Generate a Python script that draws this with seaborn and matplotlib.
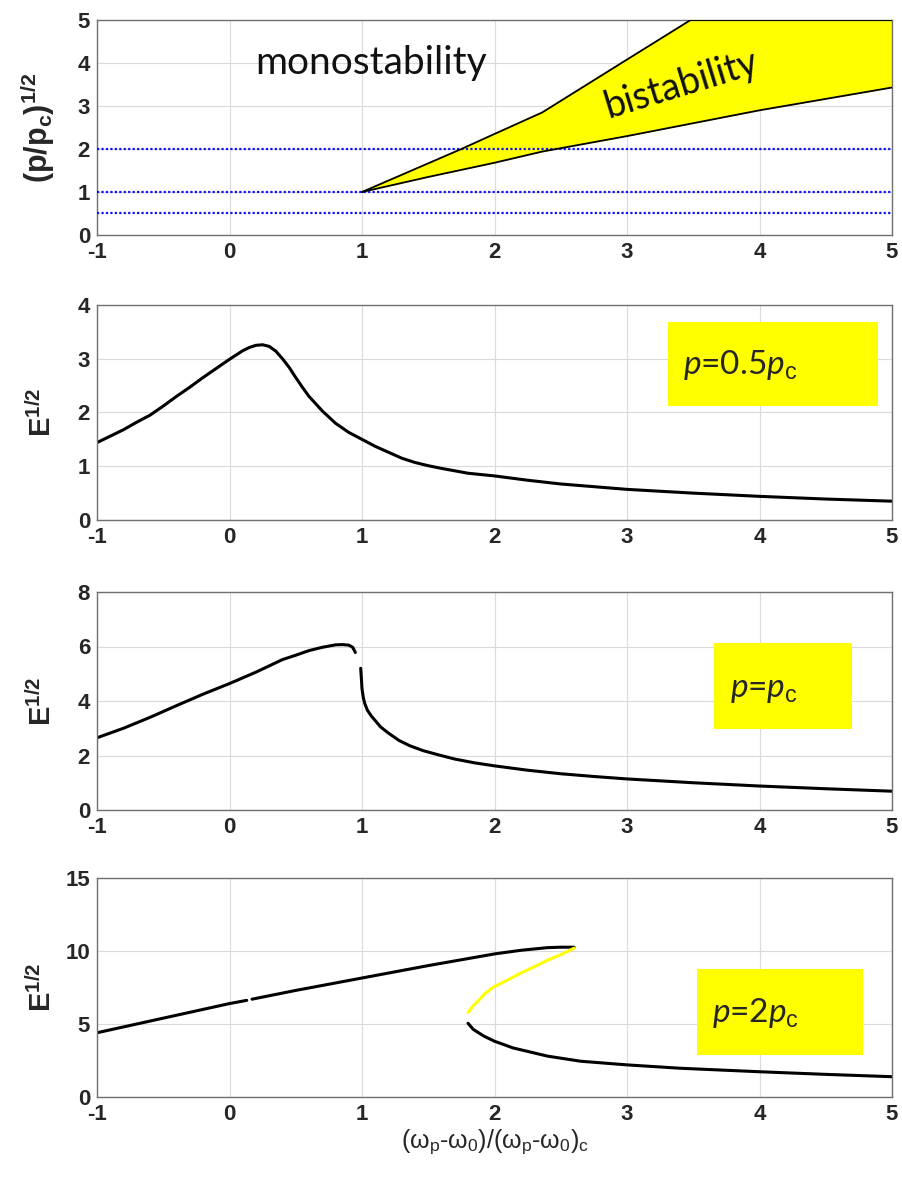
import numpy as np
import pandas as pd
import matplotlib
matplotlib.use("Agg")
import matplotlib.pyplot as plt
import seaborn as sns
from matplotlib.patches import Rectangle

# ---------------- data ----------------
x_ticks = [-1, 0, 1, 2, 3, 4, 5]

# panel 1: bistability region boundaries
bi_upper_x = [1.0, 1.3, 1.75, 2.0, 2.36, 3.0, 3.48, 5.0]
bi_upper_y = [1.0, 1.4, 2.0, 2.35, 2.85, 4.08, 5.0, 5.0]
bi_lower_x = [1.0, 1.5, 2.0, 2.36, 3.0, 4.0, 5.0]
bi_lower_y = [1.0, 1.35, 1.68, 1.94, 2.3, 2.9, 3.43]
pump_levels = [2.0, 1.0, 0.5]

# panel 2: p = 0.5 p_c
p05_x = [-1, -0.9, -0.8, -0.7, -0.6, -0.5, -0.4, -0.3, -0.2, -0.1, 0, 0.05, 0.1, 0.15, 0.2,
         0.25, 0.3, 0.35, 0.4, 0.45, 0.5, 0.55, 0.6, 0.7, 0.8, 0.9, 1.0, 1.1, 1.2, 1.3, 1.4,
         1.5, 1.6, 1.8, 2.0, 2.25, 2.5, 2.75, 3.0, 3.5, 4.0, 4.5, 5.0]
p05_y = [1.44, 1.56, 1.68, 1.82, 1.95, 2.12, 2.30, 2.47, 2.65, 2.82, 2.99, 3.07, 3.15, 3.21, 3.25,
         3.26, 3.23, 3.14, 3.0, 2.84, 2.65, 2.47, 2.3, 2.03, 1.8, 1.63, 1.50, 1.37, 1.26, 1.15, 1.07,
         1.01, 0.96, 0.87, 0.82, 0.74, 0.67, 0.62, 0.57, 0.5, 0.44, 0.39, 0.35]

# panel 3: p = p_c (two pieces)
p1a_x = [-1, -0.8, -0.6, -0.4, -0.2, 0, 0.2, 0.4, 0.5, 0.6, 0.7, 0.8, 0.85, 0.9, 0.93, 0.95]
p1a_y = [2.65, 3.0, 3.4, 3.83, 4.25, 4.64, 5.06, 5.52, 5.68, 5.85, 5.97, 6.06, 6.07, 6.05, 5.97, 5.78]
p1b_x = [0.99, 0.995, 1.0, 1.01, 1.02, 1.04, 1.07, 1.1, 1.14, 1.2, 1.28, 1.36, 1.46, 1.58, 1.7, 1.85,
         2.0, 2.25, 2.5, 2.75, 3.0, 3.5, 4.0, 4.5, 5.0]
p1b_y = [5.2, 4.85, 4.45, 4.12, 3.92, 3.67, 3.45, 3.28, 3.05, 2.82, 2.55, 2.36, 2.18, 2.02, 1.87, 1.73,
         1.62, 1.46, 1.33, 1.23, 1.14, 1.0, 0.88, 0.78, 0.69]

# panel 4: p = 2 p_c (upper branch in two pieces, unstable middle, lower branch)
p2ua_x = [-1, -0.5, 0, 0.13]
p2ua_y = [4.4, 5.4, 6.4, 6.62]
p2ub_x = [0.17, 0.5, 1.0, 1.5, 2.0, 2.2, 2.4, 2.5, 2.6]
p2ub_y = [6.7, 7.3, 8.15, 9.0, 9.8, 10.05, 10.23, 10.26, 10.26]
p2m_x = [2.6, 2.5, 2.4, 2.3, 2.19, 2.1, 1.99, 1.93, 1.89, 1.84, 1.80]
p2m_y = [10.19, 9.75, 9.37, 8.92, 8.45, 8.02, 7.52, 7.1, 6.71, 6.25, 5.79]
p2l_x = [1.80, 1.84, 1.92, 2.0, 2.14, 2.4, 2.65, 3.0, 3.4, 4.0, 4.5, 5.0]
p2l_y = [5.05, 4.63, 4.17, 3.82, 3.36, 2.8, 2.45, 2.2, 1.97, 1.73, 1.55, 1.39]

# ---------------- style ----------------
sns.set_theme(style="whitegrid")
plt.rcParams["font.family"] = ["Liberation Sans", "DejaVu Sans"]
plt.rcParams["mathtext.fontset"] = "custom"
plt.rcParams["mathtext.rm"] = "Liberation Sans"
plt.rcParams["mathtext.it"] = "Lato:italic"
plt.rcParams["mathtext.bf"] = "Liberation Sans:bold"

fig = plt.figure(figsize=(9.02, 11.79), dpi=100)
W, H = 902, 1179
left, right = 97, 892
panels = [(20, 235), (305, 520), (592, 810), (878, 1097)]
axes = []
for top, bot in panels:
    ax = fig.add_axes([left / W, 1 - bot / H, (right - left) / W, (bot - top) / H])
    axes.append(ax)

def style(ax, yticks):
    ax.set_xlim(-1, 5)
    ax.set_ylim(yticks[0], yticks[-1])
    ax.set_xticks(x_ticks)
    ax.set_yticks(yticks)
    ax.set_xticklabels([str(t) for t in x_ticks], fontsize=16, fontweight="bold")
    ax.set_yticklabels([str(t) for t in yticks], fontsize=16, fontweight="bold")
    ax.grid(True, color="#dadada", lw=0.8)
    ax.set_facecolor("white")
    for s in ax.spines.values():
        s.set_color("#707070")
        s.set_linewidth(1.0)
    ax.tick_params(axis="both", direction="in", length=3, color="#707070", pad=5)

BLACK = "black"
YEL = "#ffff00"

# ---- panel 1
ax = axes[0]
poly_x = bi_upper_x + bi_lower_x[::-1]
poly_y = bi_upper_y + bi_lower_y[::-1]
ax.fill(poly_x, poly_y, color=YEL, zorder=2)
for yv in pump_levels:
    ax.axhline(yv, color="#1010ff", ls=(0, (1, 1)), lw=1.6, zorder=3)
sns.lineplot(x=bi_upper_x, y=bi_upper_y, ax=ax, color=BLACK, lw=1.3, sort=False, estimator=None, zorder=4)
sns.lineplot(x=bi_lower_x, y=bi_lower_y, ax=ax, color=BLACK, lw=1.3, sort=False, estimator=None, zorder=4)
style(ax, [0, 1, 2, 3, 4, 5])
ax.set_ylabel(r"(p/p$_\mathbf{c}$)$^\mathbf{1/2}$", fontsize=22, fontweight="bold")
ax.text(0.345, 0.80, "monostability", transform=ax.transAxes, ha="center", va="center",
        fontsize=28, family="Lato", color="#111111")
ax.text(0.735, 0.70, "bistability", transform=ax.transAxes, ha="center", va="center",
        fontsize=27, family="Lato", rotation=17, color="#111111", zorder=5)

# ---- panel 2
ax = axes[1]
sns.lineplot(x=p05_x, y=p05_y, ax=ax, color=BLACK, lw=2.2, sort=False, estimator=None)
style(ax, [0, 1, 2, 3, 4])
ax.set_ylabel(r"E$^\mathbf{1/2}$", fontsize=21, fontweight="bold")

# ---- panel 3
ax = axes[2]
sns.lineplot(x=p1a_x, y=p1a_y, ax=ax, color=BLACK, lw=2.2, sort=False, estimator=None)
sns.lineplot(x=p1b_x, y=p1b_y, ax=ax, color=BLACK, lw=2.2, sort=False, estimator=None)
style(ax, [0, 2, 4, 6, 8])
ax.set_ylabel(r"E$^\mathbf{1/2}$", fontsize=21, fontweight="bold")

# ---- panel 4
ax = axes[3]
sns.lineplot(x=p2ua_x, y=p2ua_y, ax=ax, color=BLACK, lw=2.2, sort=False, estimator=None)
sns.lineplot(x=p2ub_x, y=p2ub_y, ax=ax, color=BLACK, lw=2.2, sort=False, estimator=None)
sns.lineplot(x=p2m_x, y=p2m_y, ax=ax, color=YEL, lw=2.2, sort=False, estimator=None)
sns.lineplot(x=p2l_x, y=p2l_y, ax=ax, color=BLACK, lw=2.2, sort=False, estimator=None)
style(ax, [0, 5, 10, 15])
ax.set_ylabel(r"E$^\mathbf{1/2}$", fontsize=21, fontweight="bold")
ax.set_xlabel(r"(ω$_\mathrm{p}$-ω$_\mathrm{0}$)/(ω$_\mathrm{p}$-ω$_\mathrm{0}$)$_\mathrm{c}$",
              fontsize=18, labelpad=2)

for ax in axes:
    ax.yaxis.set_label_coords(-0.05, 0.5)

# ---- labelled yellow boxes
boxes = [
    (axes[1], (0.718, 0.53, 0.264, 0.39), (0.737, 0.72), r"$p$=0.5$p_\mathrm{c}$"),
    (axes[2], (0.776, 0.37, 0.174, 0.395), (0.796, 0.55), r"$p$=$p_\mathrm{c}$"),
    (axes[3], (0.755, 0.193, 0.208, 0.392), (0.773, 0.385), r"$p$=2$p_\mathrm{c}$"),
]
for ax, (bx, by, bw, bh), (tx, ty), label in boxes:
    ax.add_patch(Rectangle((bx, by), bw, bh, transform=ax.transAxes, facecolor=YEL,
                           edgecolor="none", zorder=5))
    ax.text(tx, ty, label, transform=ax.transAxes, ha="left", va="center",
            fontsize=24, family="Lato", zorder=6)

fig.savefig("out.png", dpi=100)
